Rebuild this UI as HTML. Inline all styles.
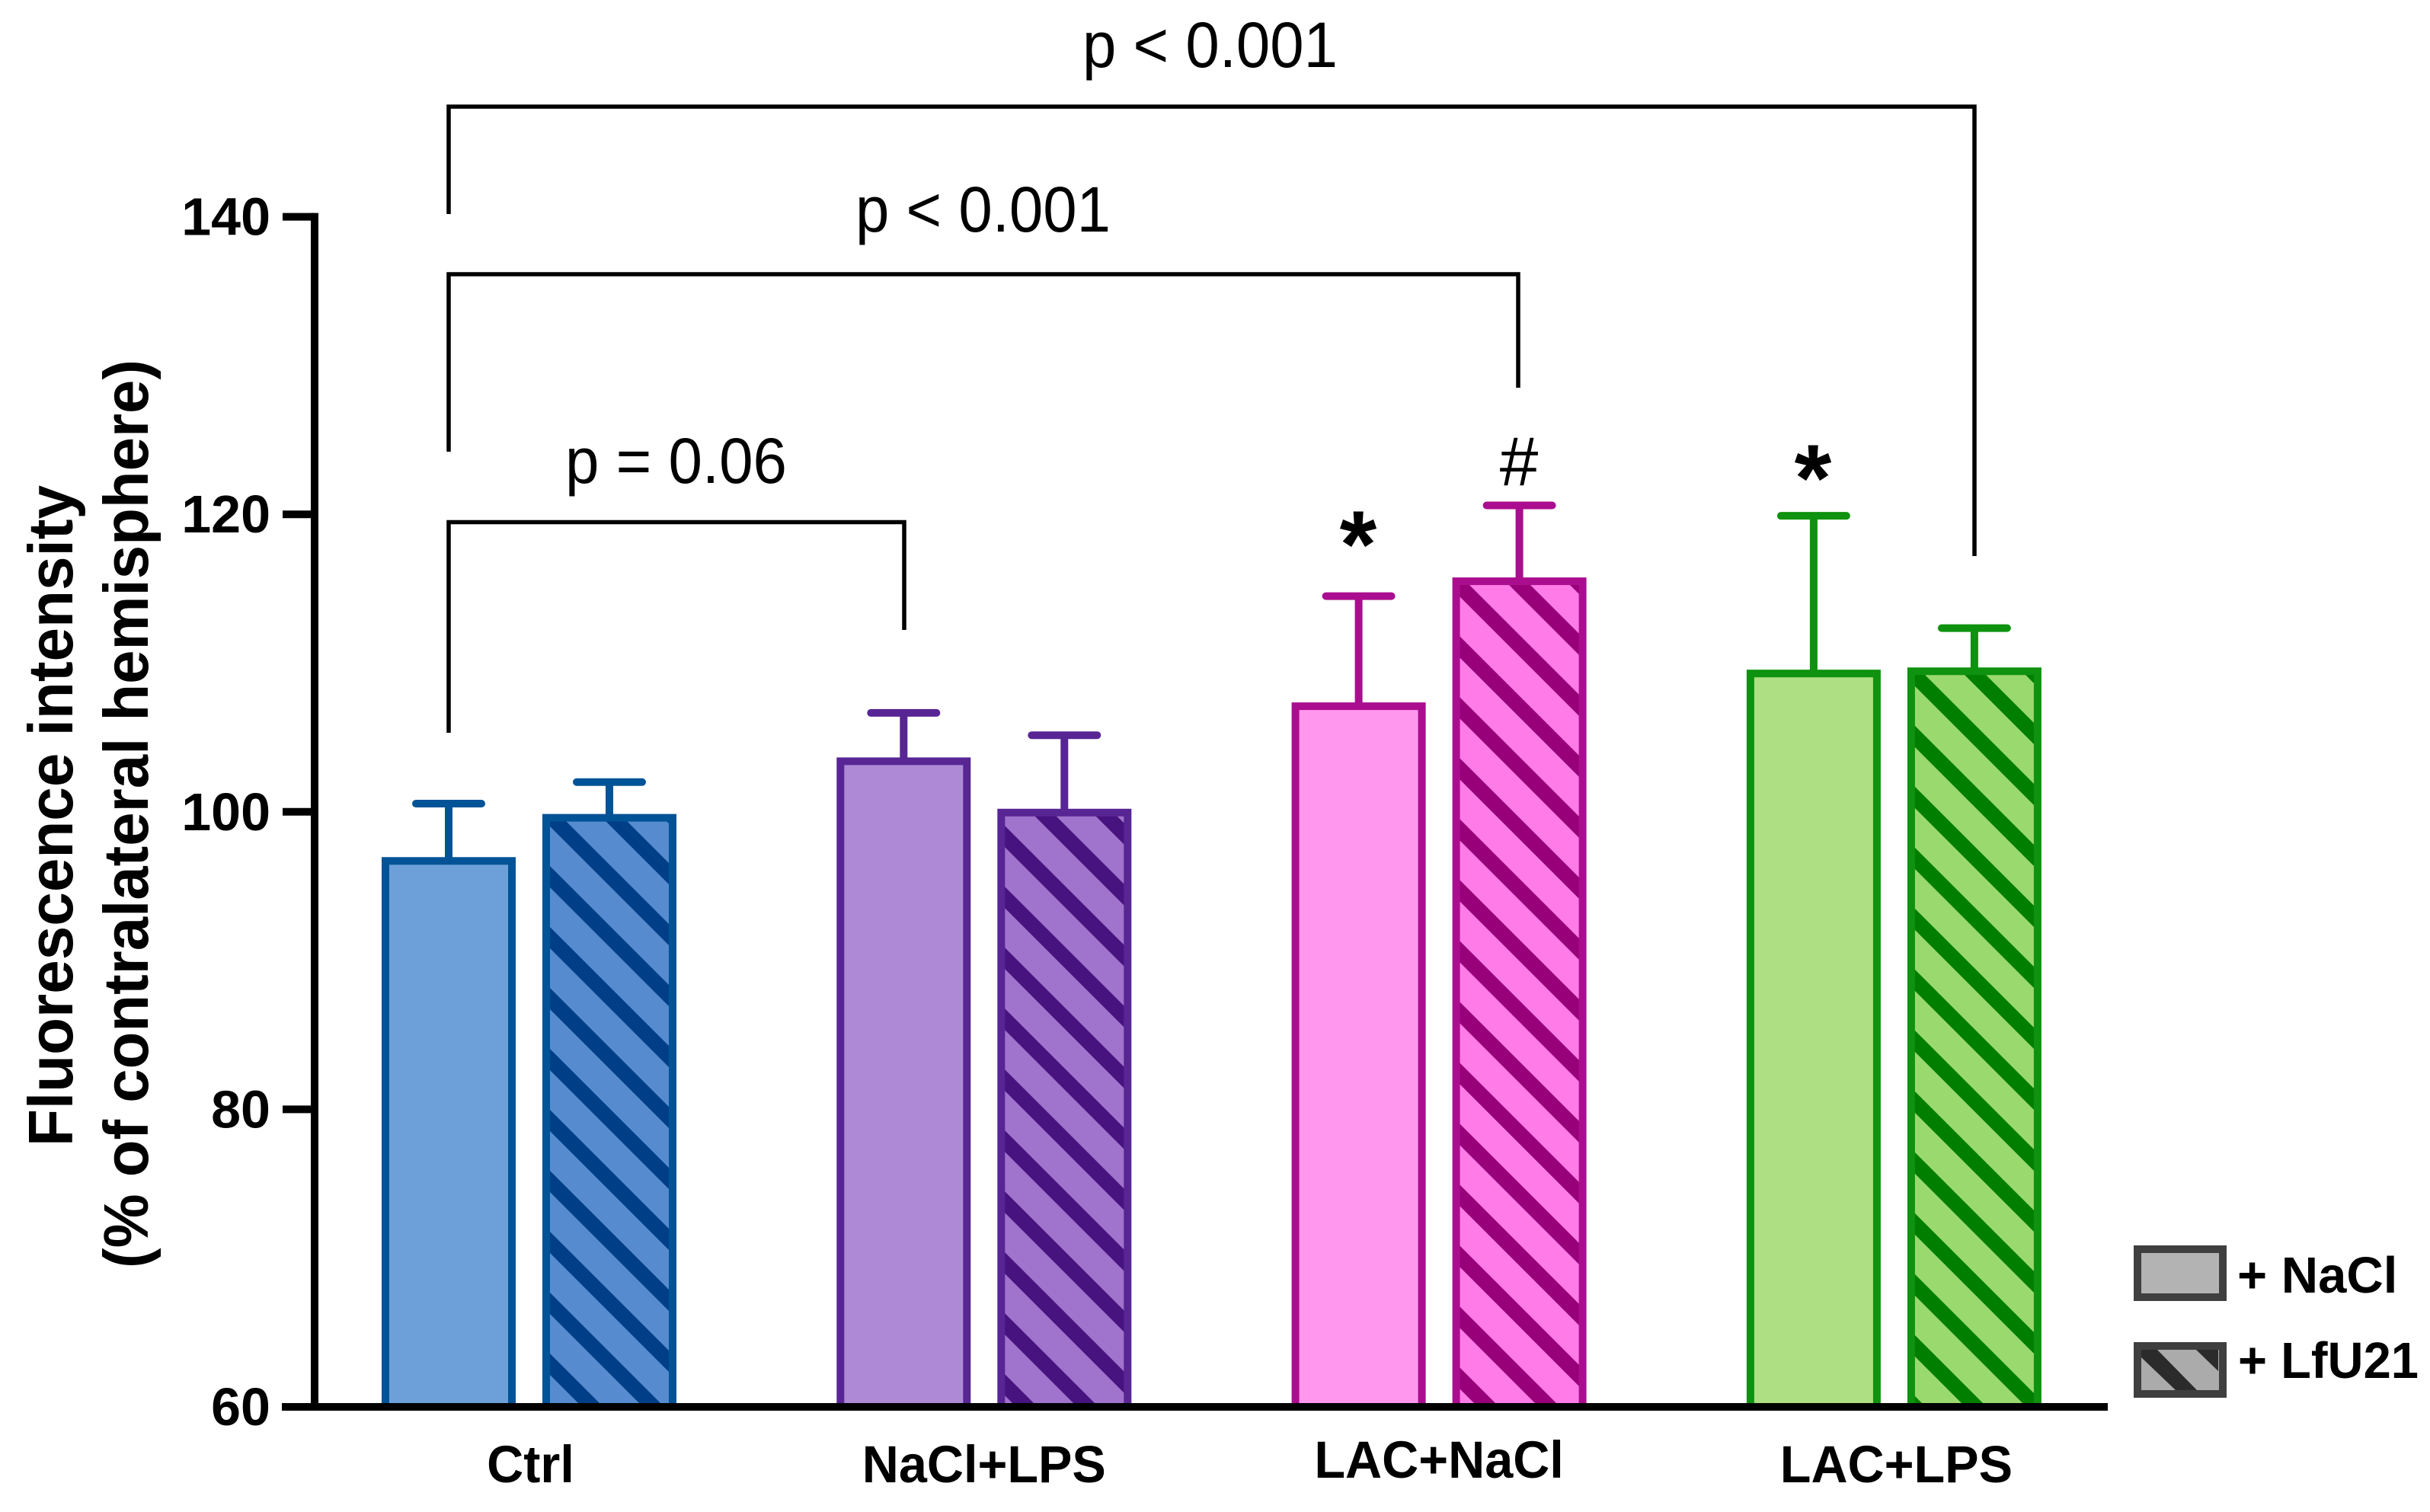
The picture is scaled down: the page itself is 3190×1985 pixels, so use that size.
<!DOCTYPE html>
<html lang="en">
<head>
<meta charset="utf-8">
<title>Fluorescence intensity bar chart</title>
<style>
html,body{margin:0;padding:0;background:#fff;}
svg{display:block;}
text{font-family:"Liberation Sans",Arial,sans-serif;fill:#000;}
.bold{font-weight:700;}
</style>
</head>
<body>
<svg id="chart" xmlns="http://www.w3.org/2000/svg" width="3190" height="1985" viewBox="0 0 3190 1985">
  <rect x="0" y="0" width="3190" height="1985" fill="#fff"/>
  <defs id="defs"></defs>
  <g id="bars"></g>
  <g id="axes"></g>

  <text class="bold" transform="translate(95,1505) rotate(-90)" font-size="83" textLength="868" lengthAdjust="spacingAndGlyphs">Fluorescence intensity</text>
  <text class="bold" transform="translate(194,1665) rotate(-90)" font-size="83" textLength="1193" lengthAdjust="spacingAndGlyphs">(% of contralateral hemisphere)</text>

  <path d="M589 281 V140 H2592 V730" fill="none" stroke="#000" stroke-width="5.5"/>
  <path d="M589 593 V360 H1993 V509" fill="none" stroke="#000" stroke-width="5.5"/>
  <path d="M589 962 V685.5 H1187 V827" fill="none" stroke="#000" stroke-width="5.5"/>

  <text x="1421" y="88" font-size="84" textLength="335" lengthAdjust="spacingAndGlyphs">p &lt; 0.001</text>
  <text x="1123" y="304" font-size="84" textLength="335" lengthAdjust="spacingAndGlyphs">p &lt; 0.001</text>
  <text x="742" y="634" font-size="84" textLength="291" lengthAdjust="spacingAndGlyphs">p = 0.06</text>

  <text x="1783" y="758" font-size="125" class="bold" text-anchor="middle">*</text>
  <text x="1994" y="637" font-size="91" text-anchor="middle">#</text>
  <text x="2380" y="671" font-size="125" class="bold" text-anchor="middle">*</text>

  <g>
    <rect x="2806" y="1640" width="112" height="63" fill="#b3b3b3" stroke="#3f3f3f" stroke-width="10"/>
    <text class="bold" x="2937" y="1697" font-size="67">+ NaCl</text>
    <rect x="2806" y="1767" width="112" height="63" fill="#ababab"/>
    <polygon points="2811,1772 2832,1772 2884,1825 2856,1825 2811,1782" fill="#2b2b2b"/>
    <polygon points="2883,1772 2912,1772 2912,1800" fill="#2b2b2b"/>
    <rect x="2806" y="1767" width="112" height="63" fill="none" stroke="#3f3f3f" stroke-width="10"/>
    <text class="bold" x="2938" y="1809" font-size="67" textLength="237" lengthAdjust="spacingAndGlyphs">+ LfU21</text>
  </g>
</svg>
<script>
// Chart data
const categories = ["Ctrl", "NaCl+LPS", "LAC+NaCl", "LAC+LPS"];
const naclMeans = [96.7, 103.4, 107.1, 109.3];
const naclUppers = [100.55, 106.65, 114.5, 119.9];
const lfuMeans = [99.6, 99.95, 115.5, 109.45];
const lfuUppers = [102, 105.15, 120.6, 112.35];
const yTicks = [60, 80, 100, 120, 140];

// Styles per group
const strokeColors = ["#005396", "#582595", "#aa0e8e", "#0f920f"];
const solidFills = ["#6da0d8", "#ae8ad6", "#ff97ee", "#aee083"];
const hatchFills = ["#568ccf", "#a073cc", "#ff7ce8", "#9ad96e"];
const hatchInks = ["#003f87", "#47137f", "#970079", "#007e00"];
const hatchShift = [15, 5, 39, 39];
const labelShiftY = [0, 0, -6, 0];
const labelShiftX = [2, 0, 0, 3];

const NS = "http://www.w3.org/2000/svg";
const svg = document.getElementById("chart");
const defs = document.getElementById("defs");
const barsLayer = document.getElementById("bars");
const axesLayer = document.getElementById("axes");

function yScale(v) { return 1847 - (v - 60) * 19.53; }
function barLeft(g, s) { return 501 + 597.3 * g + 211 * s; }
function groupCenter(g) { return barLeft(g, 0) + 193.5; }

function make(tag, attrs, parent) {
  const el = document.createElementNS(NS, tag);
  for (const k in attrs) el.setAttribute(k, attrs[k]);
  parent.appendChild(el);
  return el;
}

function drawBar(g, s, mean, upper, fill) {
  const left = barLeft(g, s);
  const cx = left + 88;
  const top = yScale(mean);
  const capY = yScale(upper);

  const stem = make("line", {x1: cx, x2: cx, y1: top, y2: capY, stroke: strokeColors[g], "stroke-width": 10}, barsLayer);
  
  

  const cap = make("line", {x1: cx - 43, x2: cx + 43, y1: capY, y2: capY, stroke: strokeColors[g], "stroke-width": 10, "stroke-linecap": "round"}, barsLayer);
  
  

  const bar = make("rect", {x: left + 5, y: top, width: 166, height: 1847 - top, fill: fill, stroke: strokeColors[g], "stroke-width": 10}, barsLayer);
  
  
}

categories.forEach(function (name, g) {
  const pattern = make("pattern", {id: "hatch" + g, patternUnits: "userSpaceOnUse", width: 80, height: 80, patternTransform: "translate(0," + hatchShift[g] + ")"}, defs);
  make("rect", {x: 0, y: 0, width: 80, height: 80, fill: hatchFills[g]}, pattern);
  make("polygon", {points: "0,0 80,80 80,108 0,28", fill: hatchInks[g]}, pattern);
  make("polygon", {points: "0,-80 80,0 80,28 0,-52", fill: hatchInks[g]}, pattern);

  drawBar(g, 0, naclMeans[g], naclUppers[g], solidFills[g]);
  drawBar(g, 1, lfuMeans[g], lfuUppers[g], "url(#hatch" + g + ")");

  const label = make("text", {x: groupCenter(g) + labelShiftX[g], y: 1946 + labelShiftY[g], "font-size": 69, "text-anchor": "middle", "class": "bold"}, axesLayer);
  
  
  label.textContent = name;
  label.setAttribute("lengthAdjust", "spacingAndGlyphs");
  label.setAttribute("textLength", label.getComputedTextLength() * 0.965);
});

const yAxis = make("line", {x1: 413, x2: 413, y1: yScale(140) - 5, y2: yScale(60), stroke: "#000", "stroke-width": 10}, axesLayer);



const xAxis = make("line", {x1: 370, x2: 2767, y1: yScale(60), y2: yScale(60), stroke: "#000", "stroke-width": 10}, axesLayer);



yTicks.forEach(function (t) {
  const y = yScale(t);
  const tick = make("line", {x1: 371, x2: 413, y1: y, y2: y, stroke: "#000", "stroke-width": 10}, axesLayer);
  
  

  const lab = make("text", {x: 355, y: y + 24, "font-size": 70, "text-anchor": "end", "class": "bold"}, axesLayer);
  
  
  lab.textContent = String(t);
});
</script>
</body>
</html>
